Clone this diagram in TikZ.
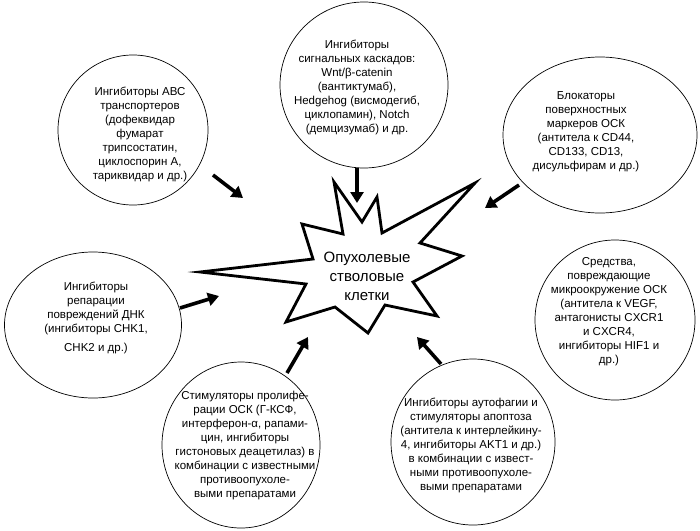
\documentclass[tikz,border=0pt]{standalone}
\usepackage{fontspec}
\setmainfont{Liberation Sans}
\usetikzlibrary{arrows.meta,shapes.geometric}
\begin{document}
\begin{tikzpicture}[x=1pt,y=-1pt,
  bubble/.style={draw, ellipse, line width=0.7pt, inner sep=0},
  lbl/.style={align=center, inner sep=0, font=\fontsize{11.5}{14}\selectfont},
  arr/.style={line width=3.6pt, -{Triangle[length=11pt,width=13pt]}},
  starline/.style={line width=2.8pt, line join=miter, miter limit=25}]
\useasboundingbox (0,0) rectangle (700,530);
\fill[white] (0,0) rectangle (700,530);

% bubbles
\node[bubble, minimum width=150pt, minimum height=150pt] (c1) at (133,130) {};
\node[bubble, minimum width=168pt, minimum height=166pt] (c2) at (364,85) {};
\node[bubble, minimum width=194pt, minimum height=156pt] (c3) at (600,135) {};
\node[bubble, minimum width=177pt, minimum height=146pt] (c4) at (93,325) {};
\node[bubble, minimum width=160pt, minimum height=160pt] (c5) at (615,320) {};
\node[bubble, minimum width=158pt, minimum height=166pt] (c6) at (241,445) {};
\node[bubble, minimum width=164pt, minimum height=166pt] (c7) at (473,442) {};

% labels
\node[lbl] (t1) at (140,134) {Ингибиторы АВС\\транспортеров\\(дофеквидар\\фумарат\\трипсостатин,\\циклоспорин А,\\тариквидар и др.)};
\node[lbl] (t2) at (357,87) {Ингибиторы\\сигнальных каскадов:\\Wnt/β-catenin\\(вантиктумаб),\\Hedgehog (висмодегиб,\\циклопамин), Notch\\(демцизумаб) и др.};
\node[lbl] (t3) at (586,132) {Блокаторы\\поверхностных\\маркеров ОСК\\(антитела к CD44,\\CD133, CD13,\\дисульфирам и др.)};
\node[lbl] (t4) at (96,318) {Ингибиторы\\репарации\\повреждений ДНК\\(ингибиторы CHK1,\\[5pt]CHK2 и др.)};
\node[lbl] (t5) at (609,312) {Средства,\\повреждающие\\микроокружение ОСК\\(антитела к VEGF,\\антагонисты CXCR1\\и CXCR4,\\ингибиторы HIF1 и\\др.)};
\node[lbl] (t6) at (245,446) {Стимуляторы пролифе-\\рации ОСК (Г-КСФ,\\интерферон-α, рапами-\\цин, ингибиторы\\гистоновых деацетилаз) в\\комбинации с известными\\противоопухоле-\\выми препаратами};
\node[lbl] (t7) at (471,445) {Ингибиторы аутофагии и\\стимуляторы апоптоза\\(антитела к интерлейкину-\\4, ингибиторы AKT1 и др.)\\в комбинации с извест-\\ными противоопухоле-\\выми препаратами};

% star
\draw[starline] (200,272) -- (313,259) -- (302,224) -- (343,234) -- (334,182)
  -- (362,222) -- (377,197) -- (382,233) -- (475,183) -- (420,243)
  -- (462,256) -- (413,282) -- (437,316) -- (385,305) -- (368,333)
  -- (335,307) -- (286,322) -- (306,284) -- cycle;
\node[align=center, inner sep=0, font=\fontsize{15}{19}\selectfont] (st) at (367,276) {Опухолевые\\стволовые\\клетки};

% arrow ends
\coordinate (a1s) at (213,175); \coordinate (a1e) at (243,198);
\coordinate (a2s) at (357,168); \coordinate (a2e) at (357,203);
\coordinate (a3s) at (519,185); \coordinate (a3e) at (485,208);
\coordinate (a4s) at (180,308); \coordinate (a4e) at (219,296);
\coordinate (a6s) at (287,373); \coordinate (a6e) at (308,337);
\coordinate (a7s) at (441,364); \coordinate (a7e) at (417,337);
\draw[arr] (a1s) -- (a1e);
\draw[arr] (a2s) -- (a2e);
\draw[arr] (a3s) -- (a3e);
\draw[arr] (a4s) -- (a4e);
\draw[arr] (a6s) -- (a6e);
\draw[arr] (a7s) -- (a7e);
\end{tikzpicture}
\end{document}
